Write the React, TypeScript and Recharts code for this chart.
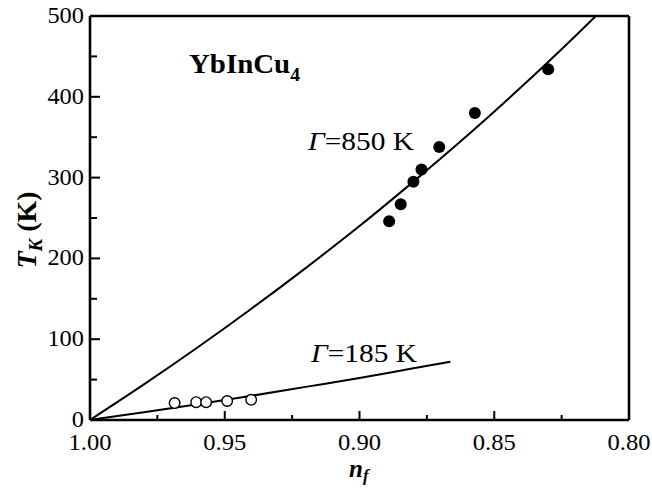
import React from 'react';
import { ComposedChart, Line, Scatter, XAxis, YAxis } from 'recharts';

// ---- axes ----
const xTicks = [1.0, 0.975, 0.95, 0.925, 0.9, 0.875, 0.85, 0.825, 0.8];
const xMajor = [1.0, 0.95, 0.9, 0.85, 0.8];
const yTicks = [0, 50, 100, 150, 200, 250, 300, 350, 400, 450, 500];
const yMajor = [0, 100, 200, 300, 400, 500];

// ---- Γ = 850 K curve ----
const curve850N = [1.0, 0.98, 0.96, 0.94, 0.92, 0.9, 0.88, 0.86, 0.84, 0.82, 0.8123];
const curve850T = [0, 44, 90, 138, 188, 240, 295, 352, 412, 475, 500];

// ---- Γ = 185 K curve ----
const curve185N = [1.0, 0.98, 0.96, 0.94, 0.92, 0.9, 0.88, 0.8663];
const curve185T = [0, 9.6, 19.6, 30, 41, 52, 64, 72];

// ---- filled points ----
const filledN = [0.889, 0.8847, 0.88, 0.877, 0.8704, 0.8572, 0.83];
const filledT = [246, 267, 295, 310, 338, 380, 434];

// ---- open points ----
const openN = [0.9686, 0.9606, 0.9569, 0.9491, 0.9402];
const openT = [21, 22, 22, 23.5, 25];

const zip = (ns: number[], ts: number[]) => ns.map((n, i) => ({ n, T: ts[i] }));
const curve850 = zip(curve850N, curve850T);
const curve185 = zip(curve185N, curve185T);
const filled = zip(filledN, filledT);
const open = zip(openN, openT);

const FONT = '"Liberation Serif", "Times New Roman", serif';
const near = (arr: number[], v: number) => arr.some((m) => Math.abs(m - v) < 1e-6);

const BottomTick = (p: any) => {
  const v = p.payload.value;
  const major = near(xMajor, v);
  return (
    <g>
      <line x1={p.x} x2={p.x} y1={p.y} y2={p.y - (major ? 9 : 5)} stroke="#000" strokeWidth={2} />
      {major && (
        <text
          x={p.x}
          y={p.y + 30}
          textAnchor="middle"
          fontFamily={FONT}
          fontSize={23}
          fill="#000"
          textLength={43}
          lengthAdjust="spacingAndGlyphs"
        >
          {v.toFixed(2)}
        </text>
      )}
    </g>
  );
};

const TopTick = (p: any) => (
  <line x1={p.x} x2={p.x} y1={p.y} y2={p.y + 10} stroke="#000" strokeWidth={2} />
);

const LeftTick = (p: any) => {
  const v = p.payload.value;
  const major = near(yMajor, v);
  const s = String(v);
  return (
    <g>
      <line x1={p.x} x2={p.x + (major ? 10 : 7)} y1={p.y} y2={p.y} stroke="#000" strokeWidth={2} />
      {major && (
        <text
          x={p.x - 6}
          y={p.y + 7}
          textAnchor="end"
          fontFamily={FONT}
          fontSize={23}
          fill="#000"
          textLength={s.length * 12.2}
          lengthAdjust="spacingAndGlyphs"
        >
          {s}
        </text>
      )}
    </g>
  );
};

const RightTick = (p: any) => (
  <line x1={p.x} x2={p.x - 10} y1={p.y} y2={p.y} stroke="#000" strokeWidth={2} />
);

const FilledDot = (p: any) => <circle cx={p.cx} cy={p.cy} r={6} fill="#000" />;
const OpenDot = (p: any) => (
  <circle cx={p.cx} cy={p.cy} r={5.3} fill="#fff" stroke="#000" strokeWidth={1.4} />
);

const axisLine = { stroke: '#000', strokeWidth: 2.6 };

export default function App() {
  return (
    <div style={{ position: 'absolute', left: 0, top: 0, width: 652, height: 489, background: '#fff' }}>
      <ComposedChart
        width={652}
        height={489}
        margin={{ top: 15, right: 22, bottom: 0, left: 0 }}
      >
        <XAxis
          xAxisId="b"
          type="number"
          dataKey="n"
          domain={[0.8, 1]}
          reversed
          ticks={xTicks}
          interval={0}
          height={69}
          tickSize={0}
          tickMargin={0}
          tickLine={false}
          axisLine={axisLine}
          tick={BottomTick}
        />
        <XAxis
          xAxisId="t"
          orientation="top"
          type="number"
          dataKey="n"
          domain={[0.8, 1]}
          reversed
          ticks={xTicks}
          interval={0}
          height={1}
          tickSize={0}
          tickMargin={0}
          tickLine={false}
          axisLine={axisLine}
          tick={TopTick}
        />
        <YAxis
          yAxisId="l"
          type="number"
          domain={[0, 500]}
          ticks={yTicks}
          interval={0}
          width={90}
          tickSize={0}
          tickMargin={0}
          tickLine={false}
          axisLine={axisLine}
          tick={LeftTick}
        />
        <YAxis
          yAxisId="r"
          orientation="right"
          type="number"
          domain={[0, 500]}
          ticks={yTicks}
          interval={0}
          width={1}
          tickSize={0}
          tickMargin={0}
          tickLine={false}
          axisLine={axisLine}
          tick={RightTick}
        />
        <Line
          xAxisId="b"
          yAxisId="l"
          data={curve850}
          dataKey="T"
          type="monotone"
          stroke="#000"
          strokeWidth={2}
          dot={false}
          activeDot={false}
          isAnimationActive={false}
        />
        <Line
          xAxisId="b"
          yAxisId="l"
          data={curve185}
          dataKey="T"
          type="monotone"
          stroke="#000"
          strokeWidth={2}
          dot={false}
          activeDot={false}
          isAnimationActive={false}
        />
        <Scatter
          xAxisId="b"
          yAxisId="l"
          data={filled}
          dataKey="T"
          shape={FilledDot}
          isAnimationActive={false}
        />
        <Scatter
          xAxisId="b"
          yAxisId="l"
          data={open}
          dataKey="T"
          shape={OpenDot}
          isAnimationActive={false}
        />
      </ComposedChart>
      <svg
        width={652}
        height={489}
        style={{ position: 'absolute', left: 0, top: 0, pointerEvents: 'none' }}
      >
        <text
          x={189}
          y={73}
          fontFamily={FONT}
          fontSize={28}
          fontWeight="bold"
          fill="#000"
          textLength={111}
          lengthAdjust="spacingAndGlyphs"
        >
          YbInCu
          <tspan fontSize={19} dy={8}>4</tspan>
        </text>
        <text
          x={308}
          y={150}
          fontFamily={FONT}
          fontSize={25}
          fill="#000"
          textLength={106}
          lengthAdjust="spacingAndGlyphs"
        >
          <tspan fontStyle="italic">Γ</tspan>=850 K
        </text>
        <text
          x={311}
          y={362}
          fontFamily={FONT}
          fontSize={25}
          fill="#000"
          textLength={106}
          lengthAdjust="spacingAndGlyphs"
        >
          <tspan fontStyle="italic">Γ</tspan>=185 K
        </text>
        <text x={349} y={477} fontFamily={FONT} fontSize={25} fontWeight="bold" fontStyle="italic" fill="#000">
          n
          <tspan fontSize={17} dy={4}>f</tspan>
        </text>
        <text
          transform="translate(36,230) rotate(-90)"
          textAnchor="middle"
          fontFamily={FONT}
          fontSize={28}
          fontWeight="bold"
          fill="#000"
        >
          <tspan fontStyle="italic">T</tspan>
          <tspan fontStyle="italic" fontSize={19} dy={6}>K</tspan>
          <tspan dy={-6}> (K)</tspan>
        </text>
      </svg>
    </div>
  );
}
